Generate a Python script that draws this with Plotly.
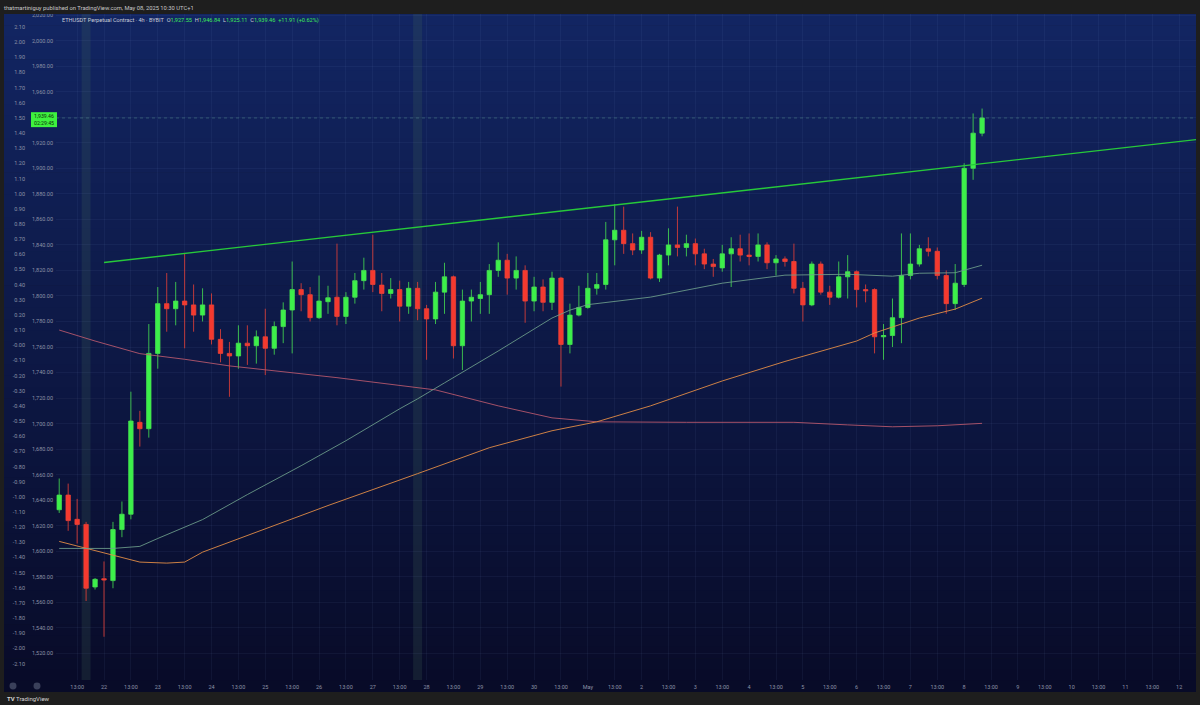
import plotly.graph_objects as go
import pandas as pd

# ---------------- data ----------------
first_bar = "2025-04-21 05:00"   # 4h bars, UTC+1
opens = [1632.5, 1644, 1625, 1621, 1572, 1578.5, 1577, 1617, 1629, 1701,
         1696, 1755, 1794, 1790, 1796, 1793, 1785, 1793, 1766, 1755,
         1753, 1763, 1761, 1768, 1759, 1776, 1789, 1805, 1801, 1783,
         1795.5, 1799, 1784, 1799, 1812, 1820, 1808.5, 1802, 1805, 1792,
         1806, 1790, 1782, 1803, 1815, 1761, 1796, 1798, 1801, 1820,
         1828, 1814, 1820, 1796, 1807, 1795, 1814, 1762, 1785, 1791,
         1806, 1809, 1844, 1851.5, 1841, 1836, 1846, 1814, 1832, 1840,
         1838, 1841, 1833, 1825, 1822, 1833, 1837, 1832, 1831, 1840,
         1826, 1829, 1827, 1806, 1793, 1825, 1803, 1799, 1815, 1819,
         1805, 1805, 1768, 1769, 1783, 1816, 1825, 1837, 1835, 1816,
         1794, 1809, 1900, 1927.55]
highs = [1657, 1653, 1641, 1623, 1579, 1592, 1623, 1639, 1725, 1710,
         1778, 1807, 1818, 1811, 1833, 1809, 1806, 1802, 1774, 1764,
         1777, 1777, 1773, 1790, 1780, 1795, 1827, 1810, 1807, 1816,
         1808, 1841, 1803, 1818, 1830, 1848, 1818, 1814, 1812, 1811,
         1811, 1793, 1811, 1826, 1816, 1805, 1805, 1811, 1825, 1842,
         1833, 1831, 1824, 1815, 1813, 1819, 1815, 1794, 1808, 1818,
         1818, 1858, 1872, 1870, 1849, 1851, 1850, 1833, 1853, 1870,
         1848, 1845, 1837, 1829, 1840, 1846, 1848, 1849, 1849, 1842,
         1832, 1831, 1841, 1811, 1827, 1827, 1808, 1827, 1832, 1820,
         1809, 1806, 1778, 1798, 1849, 1849, 1840, 1846, 1838, 1820,
         1825, 1904, 1943, 1946.84]
lows = [1630, 1616, 1606, 1561, 1570, 1533, 1571, 1611, 1625, 1682,
        1689, 1743, 1772, 1777, 1759, 1772, 1780, 1762, 1748, 1721,
        1743, 1746, 1747, 1738, 1754, 1763, 1755, 1788, 1780, 1782,
        1786, 1777, 1778, 1794, 1805, 1803, 1788, 1798, 1780, 1786,
        1781, 1750, 1778, 1786, 1751, 1742, 1780, 1786, 1786, 1815,
        1801, 1805, 1779, 1788, 1788, 1789, 1729, 1755, 1784, 1790,
        1801, 1805, 1824, 1833, 1832, 1833, 1813, 1811, 1824, 1831,
        1831, 1824, 1821, 1815, 1819, 1807, 1827, 1824, 1827, 1821,
        1816, 1823, 1802, 1780, 1792, 1801, 1793, 1798, 1798, 1791,
        1795, 1755, 1750, 1760, 1763, 1813, 1823, 1831, 1813, 1786,
        1789, 1807, 1891, 1925.11]
closes = [1644, 1624, 1621, 1571, 1578, 1577.5, 1617, 1629, 1702, 1696,
          1755, 1794, 1790, 1796, 1793, 1785, 1793, 1766, 1755, 1753,
          1763, 1761, 1768, 1759, 1776, 1789, 1805, 1801, 1783, 1796,
          1798.6, 1784, 1799, 1812, 1820, 1809, 1802, 1805, 1792, 1806,
          1790, 1782, 1803, 1815, 1761, 1796, 1799, 1801, 1820, 1828,
          1814, 1820, 1796, 1807, 1795, 1814, 1762, 1785, 1791, 1806,
          1809, 1844, 1851.5, 1841, 1836, 1846, 1814, 1832, 1840, 1838,
          1841, 1833, 1825, 1823, 1833, 1837, 1832, 1831, 1840, 1826,
          1829, 1827, 1806, 1793, 1825, 1803, 1799, 1815, 1819, 1805,
          1804, 1768, 1769, 1783, 1816, 1825, 1837, 1835, 1816, 1794,
          1810, 1900, 1927.55, 1939.46]

# moving averages, sampled at bar indices
ma_fast_idx = [0, 6, 9, 11, 16, 21, 27, 32, 38, 40, 43, 49, 55, 57, 59, 66, 74, 81, 88, 93, 96, 100, 103]
ma_fast_val = [1602.2, 1602.2, 1603.8, 1610, 1624.8, 1644.4, 1667, 1686.6, 1711.6, 1719.4, 1731.9,
               1756.9, 1782.7, 1788.9, 1793.2, 1799.1, 1810, 1816.3, 1817, 1815.5, 1817.8, 1818.2, 1824.1]
ma_mid_idx = [0, 7, 9, 12, 14, 16, 22, 30, 40, 48, 55, 60, 66, 74, 81, 89, 91, 96, 100, 103]
ma_mid_val = [1607.7, 1595.2, 1591.5, 1590.7, 1591.5, 1599.3, 1614.7, 1635.8, 1660.8, 1681.1,
              1694.4, 1701.4, 1713.9, 1733.4, 1748.7, 1764.7, 1771, 1782.7, 1789.7, 1798.3]
ma_slow_idx = [0, 4, 9, 14, 19, 31, 42, 49, 55, 60, 70, 82, 88, 93, 98, 103]
ma_slow_val = [1773.3, 1764.7, 1754.8, 1750.4, 1745.2, 1736, 1726.4, 1713.9, 1704.5, 1701.4,
               1701, 1701, 1699, 1697.5, 1698.3, 1700.2]

trend_t = ["2025-04-22 01:00", "2025-05-12 09:00"]
trend_p = [1826.2, 1922.6]

highlight_bars = [3, 40]          # shaded single-bar columns
last_price = 1939.46
countdown = "02:29:45"

price_ticks = [2020, 2000, 1980, 1960, 1940, 1920, 1900, 1880, 1860, 1840, 1820, 1800, 1780,
               1760, 1740, 1720, 1700, 1680, 1660, 1640, 1620, 1600, 1580, 1560, 1540, 1520]
price_hidden = [1940]             # covered by the price badge
osc_labels = ["2.10", "2.00", "1.90", "1.80", "1.70", "1.60", "1.50", "1.40", "1.30", "1.20", "1.10",
              "1.00", "0.90", "0.80", "0.70", "0.60", "0.50", "0.40", "0.30", "0.20", "0.10", "-0.00",
              "-0.10", "-0.20", "-0.30", "-0.40", "-0.50", "-0.60", "-0.70", "-0.80", "-0.90", "-1.00",
              "-1.10", "-1.20", "-1.30", "-1.40", "-1.50", "-1.60", "-1.70", "-1.80", "-1.90", "-2.00", "-2.10"]
day_dates = ["2025-04-22", "2025-04-23", "2025-04-24", "2025-04-25", "2025-04-26", "2025-04-27",
             "2025-04-28", "2025-04-29", "2025-04-30", "2025-05-01", "2025-05-02", "2025-05-03",
             "2025-05-04", "2025-05-05", "2025-05-06", "2025-05-07", "2025-05-08", "2025-05-09",
             "2025-05-10", "2025-05-11", "2025-05-12"]
day_labels = ["22", "23", "24", "25", "26", "27", "28", "29", "30", "May", "2", "3", "4", "5",
              "6", "7", "8", "9", "10", "11", "12"]

# ---------------- build ----------------
W, H = 1200, 705
def px(x):
    return x / W
def py(y):
    return 1 - y / H

times = pd.date_range(first_bar, periods=len(opens), freq="4h")
bar_half = pd.Timedelta(hours=2)

x_tickvals = ["2025-04-21 13:00"]
x_ticktext = ["13:00"]
for d, lab in zip(day_dates, day_labels):
    x_tickvals += [d + " 01:00", d + " 13:00"]
    x_ticktext += [lab, "13:00"]

GREEN = "#3cf04a"
RED = "#f5392f"
LABEL = "#8c92a6"
FONT = "Roboto"

fig = go.Figure()

fig.add_trace(go.Candlestick(
    x=times, open=opens, high=highs, low=lows, close=closes,
    increasing=dict(fillcolor=GREEN, line=dict(color="rgba(70,225,80,0.8)", width=1)),
    decreasing=dict(fillcolor=RED, line=dict(color="rgba(235,65,55,0.8)", width=1)),
    whiskerwidth=0, hoverinfo="skip", showlegend=False))

fig.add_trace(go.Scatter(x=times[ma_slow_idx], y=ma_slow_val, mode="lines",
                         line=dict(color="rgba(190,90,110,0.85)", width=1), hoverinfo="skip"))
fig.add_trace(go.Scatter(x=times[ma_mid_idx], y=ma_mid_val, mode="lines",
                         line=dict(color="rgba(225,140,70,0.9)", width=1), hoverinfo="skip"))
fig.add_trace(go.Scatter(x=times[ma_fast_idx], y=ma_fast_val, mode="lines",
                         line=dict(color="rgba(110,160,140,0.85)", width=1), hoverinfo="skip"))
fig.add_trace(go.Scatter(x=trend_t, y=trend_p, mode="lines",
                         line=dict(color="#27c93a", width=1.4), hoverinfo="skip"))
# oscillator scale carrier (invisible)
fig.add_trace(go.Scatter(x=[times[0]], y=[0], yaxis="y2", mode="markers",
                         marker=dict(opacity=0), hoverinfo="skip"))

shapes = []
# panel gradient background
N = 60
top_c = (18, 37, 98)
bot_c = (8, 11, 40)
y_top, y_bot = 12, 692
for k in range(N):
    f = k / (N - 1)
    c = tuple(round(top_c[j] + (bot_c[j] - top_c[j]) * f) for j in range(3))
    y0 = y_top + (y_bot - y_top) * k / N
    y1 = y_top + (y_bot - y_top) * (k + 1) / N + 0.6
    shapes.append(dict(type="rect", xref="paper", yref="paper", layer="below",
                       x0=px(4), x1=px(1196), y0=py(min(y1, y_bot)), y1=py(y0),
                       fillcolor="rgb(%d,%d,%d)" % c, line=dict(width=0)))
# highlighted bars
for b in highlight_bars:
    shapes.append(dict(type="rect", xref="x", yref="paper", layer="below",
                       x0=times[b] - bar_half, x1=times[b] + bar_half,
                       y0=py(680), y1=py(12),
                       fillcolor="rgba(70,110,90,0.20)", line=dict(width=0)))
# last price line
shapes.append(dict(type="line", xref="paper", yref="y", x0=px(56), x1=px(1196),
                   y0=last_price, y1=last_price,
                   line=dict(color="rgba(100,160,150,0.4)", width=1, dash="dot")))
# price badge
shapes.append(dict(type="rect", xref="paper", yref="paper", layer="above",
                   x0=px(31), x1=px(57), y0=py(125.5), y1=py(110.5),
                   fillcolor="#3ef23e", line=dict(width=0)))
# frame bars
frame = "#1e1e1e"
shapes.append(dict(type="rect", xref="paper", yref="paper", layer="above",
                   x0=0, x1=1, y0=py(12), y1=1, fillcolor=frame, line=dict(width=0)))
shapes.append(dict(type="rect", xref="paper", yref="paper", layer="above",
                   x0=0, x1=1, y0=0, y1=py(692), fillcolor=frame, line=dict(width=0)))
shapes.append(dict(type="rect", xref="paper", yref="paper", layer="above",
                   x0=0, x1=px(4), y0=0, y1=1, fillcolor=frame, line=dict(width=0)))
shapes.append(dict(type="rect", xref="paper", yref="paper", layer="above",
                   x0=px(1196), x1=1, y0=0, y1=1, fillcolor=frame, line=dict(width=0)))
# small buttons bottom-left
for cx in (13, 37):
    shapes.append(dict(type="circle", xref="paper", yref="paper", layer="above",
                       x0=px(cx - 3.5), x1=px(cx + 3.5), y0=py(689.5), y1=py(682.5),
                       fillcolor="rgba(120,128,150,0.45)", line=dict(width=0)))

header = ("<span style='color:#c9ccd6'>ETHUSDT Perpetual Contract · 4h · BYBIT</span>"
          "&nbsp;&nbsp;<span style='color:#c9ccd6'>O</span><span style='color:#3ee85a'>%s</span>"
          "&nbsp;&nbsp;<span style='color:#c9ccd6'>H</span><span style='color:#3ee85a'>%s</span>"
          "&nbsp;&nbsp;<span style='color:#c9ccd6'>L</span><span style='color:#3ee85a'>%s</span>"
          "&nbsp;&nbsp;<span style='color:#c9ccd6'>C</span><span style='color:#3ee85a'>%s</span>"
          "&nbsp;&nbsp;<span style='color:#3ee85a'>+11.91 (+0.62%%)</span>") % (
    "{:,.2f}".format(opens[-1]), "{:,.2f}".format(highs[-1]),
    "{:,.2f}".format(lows[-1]), "{:,.2f}".format(closes[-1]))

annotations = [
    dict(xref="paper", yref="paper", x=px(2), y=py(6), xanchor="left", yanchor="middle",
         text="thatmartiniguy published on TradingView.com, May 08, 2025 10:30 UTC+1",
         showarrow=False, font=dict(family=FONT, size=5.8, color="#c8c8c8")),
    dict(xref="paper", yref="paper", x=px(60), y=py(18.5), xanchor="left", yanchor="middle",
         text=header, showarrow=False, font=dict(family=FONT, size=5.6, color="#c9ccd6")),
    dict(xref="paper", yref="paper", x=px(44), y=py(118), xanchor="center", yanchor="middle",
         text="{:,.2f}<br>{}".format(last_price, countdown), showarrow=False,
         font=dict(family=FONT, size=5.2, color="#0b2a0b")),
    dict(xref="paper", yref="paper", x=px(5), y=py(698), xanchor="left", yanchor="middle",
         text="<b>TV</b> TradingView", showarrow=False,
         font=dict(family=FONT, size=6, color="#d6d6d6")),
]

price_text = ["" if v in price_hidden else "{:,.2f}".format(v) for v in price_ticks]
osc_vals = [float(s) for s in osc_labels]

fig.update_layout(
    width=W, height=H, autosize=False,
    margin=dict(l=0, r=0, t=0, b=0, pad=0),
    paper_bgcolor=frame, plot_bgcolor="rgba(0,0,0,0)",
    showlegend=False, hovermode=False,
    shapes=shapes, annotations=annotations,
    font=dict(family=FONT, size=5.5, color=LABEL),
    xaxis=dict(type="date", domain=[px(56), px(1196)],
               range=["2025-04-21 03:34", "2025-05-12 08:30"],
               tickvals=x_tickvals, ticktext=x_ticktext, ticks="",
               tickfont=dict(family=FONT, size=5.5, color=LABEL),
               showgrid=True, gridcolor="rgba(130,150,210,0.07)", gridwidth=1,
               zeroline=False, showline=False, rangeslider=dict(visible=False),
               ticklabelstandoff=2, fixedrange=True),
    yaxis=dict(domain=[py(680), py(12)], range=[1499.06, 2020.94], side="left",
               tickvals=price_ticks, ticktext=price_text, ticks="",
               tickfont=dict(family=FONT, size=5.5, color=LABEL),
               showgrid=True, gridcolor="rgba(130,150,210,0.07)", gridwidth=1,
               zeroline=False, showline=False, ticklabelstandoff=2, fixedrange=True),
    yaxis2=dict(overlaying="y", anchor="free", position=px(25), side="left",
                range=[-2.2086, 2.1862], tickvals=osc_vals, ticktext=osc_labels, ticks="",
                tickfont=dict(family=FONT, size=5.5, color=LABEL),
                showgrid=False, zeroline=False, showline=False, fixedrange=True),
)

fig.write_html("out.html", config={"displayModeBar": False},
               post_script="document.body.style.margin='0';document.body.style.overflow='hidden';")
